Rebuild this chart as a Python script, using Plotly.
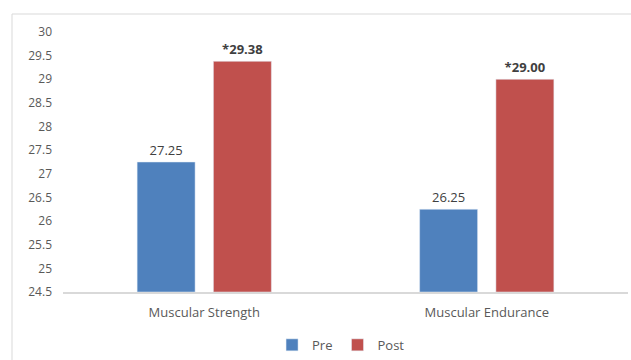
import plotly.graph_objects as go

categories = ["Muscular Strength", "Muscular Endurance"]
pre_values = [27.25, 26.25]
post_values = [29.38, 29.00]
pre_labels = ["27.25", "26.25"]
post_labels = ["<b>*29.38</b>", "<b>*29.00</b>"]
y_ticks = [24.5, 25, 25.5, 26, 26.5, 27, 27.5, 28, 28.5, 29, 29.5, 30]
y_tick_text = ["24.5", "25", "25.5", "26", "26.5", "27", "27.5", "28", "28.5", "29", "29.5", "30"]

FONT = "Open Sans, Liberation Sans, sans-serif"

fig = go.Figure()
fig.add_trace(go.Bar(
    name="Pre", x=categories, y=[v - 24.5 for v in pre_values], base=24.5,
    marker=dict(color="#4F81BD"),
    text=pre_labels, textposition="outside", cliponaxis=False,
    textfont=dict(color="#404040", size=13, family=FONT),
    hoverinfo="skip",
))
fig.add_trace(go.Bar(
    name="Post", x=categories, y=[v - 24.5 for v in post_values], base=24.5,
    marker=dict(color="#C0504D"),
    text=post_labels, textposition="outside", cliponaxis=False,
    textfont=dict(color="#404040", size=13, family=FONT),
    hoverinfo="skip",
))

fig.update_layout(
    width=631, height=360,
    margin=dict(l=63, r=3, t=32, b=68, autoexpand=False),
    paper_bgcolor="white", plot_bgcolor="white",
    barmode="group", bargap=0.46, bargroupgap=0.24,
    font=dict(family=FONT, color="#595959", size=12),
    showlegend=True,
    legend=dict(orientation="h", x=0.37, xanchor="left",
                yref="container", y=0.042, yanchor="middle",
                font=dict(size=13, color="#595959"), itemwidth=30),
    yaxis=dict(range=[24.5, 30], tickvals=y_ticks, ticktext=y_tick_text,
               showgrid=False, zeroline=False, showline=False,
               ticks="", ticklabelstandoff=10, tickfont=dict(size=12)),
    xaxis=dict(showline=True, linecolor="#D9D9D9", linewidth=1.5, ticks="",
               tickfont=dict(size=13), ticklabelstandoff=8),
    shapes=[dict(type="rect", xref="paper", yref="paper",
                 x0=(12 - 63) / 565, x1=1.2, y0=-0.5, y1=(292 - 14) / 260,
                 line=dict(color="#D9D9D9", width=1), fillcolor="rgba(0,0,0,0)",
                 layer="below")],
)

fig.write_html("out.html")
